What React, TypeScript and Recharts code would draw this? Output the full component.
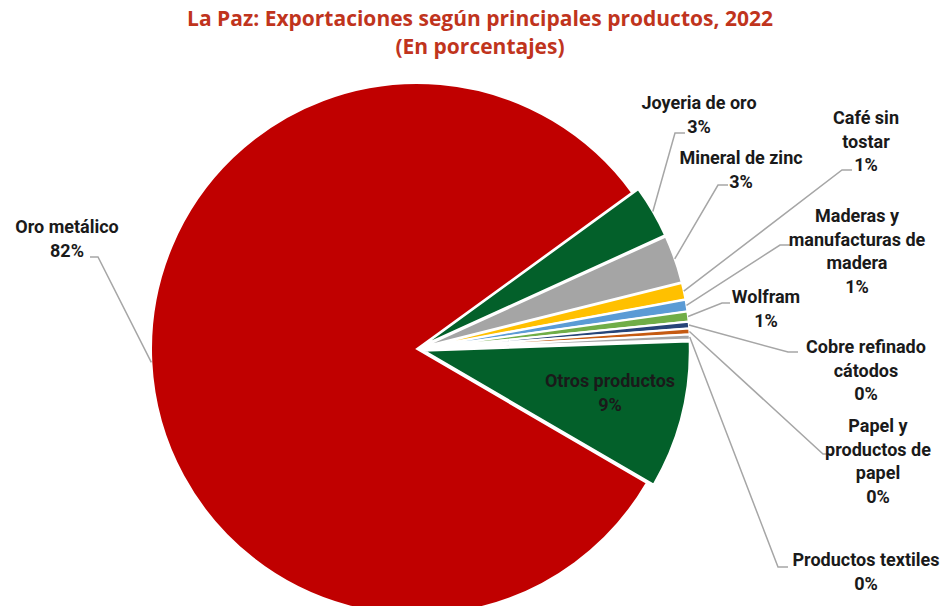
import { PieChart, Pie, Cell, Sector } from "recharts";

const TITLE_LINES = ["La Paz: Exportaciones según principales productos, 2022", "(En porcentajes)"];

const PRODUCTS = [
  "Joyeria de oro",
  "Mineral de zinc",
  "Café sin tostar",
  "Maderas y manufacturas de madera",
  "Wolfram",
  "Cobre refinado cátodos",
  "Papel y productos de papel",
  "Productos textiles",
  "Otros productos",
  "Oro metálico",
];
const SHARES = [3.2, 2.9, 1.0, 0.7, 0.6, 0.4, 0.35, 0.3, 8.95, 81.6];
const LABEL_LINES = [
  ["Joyeria de oro"],
  ["Mineral de zinc"],
  ["Café sin", "tostar"],
  ["Maderas y", "manufacturas de", "madera"],
  ["Wolfram"],
  ["Cobre refinado", "cátodos"],
  ["Papel y", "productos de", "papel"],
  ["Productos textiles"],
  ["Otros productos"],
  ["Oro metálico"],
];

const COLORS = ["#03602A", "#A5A5A5", "#FFC000", "#5B9BD5", "#70AD47", "#264478", "#C55A11", "#A5A5A5", "#03602A", "#C00000"];

// label placement (text centre, first baseline, leader elbow, leader end)
const LABEL_POS: { x: number; y: number; elbow?: [number, number]; end?: [number, number] }[] = [
  { x: 699, y: 109, elbow: [675, 133], end: [685, 133] },
  { x: 741, y: 164, elbow: [718, 185], end: [728, 185] },
  { x: 866, y: 124, elbow: [842, 170], end: [852, 170] },
  { x: 857, y: 222, elbow: [780, 245], end: [790, 245] },
  { x: 766, y: 303, elbow: [722, 303], end: [730, 303] },
  { x: 866, y: 353, elbow: [788, 352], end: [798, 352] },
  { x: 878, y: 432, elbow: [823, 454], end: [833, 454] },
  { x: 866, y: 566, elbow: [778, 567], end: [788, 567] },
  { x: 610, y: 387 },
  { x: 67, y: 233, elbow: [98, 257], end: [90, 257] },
];

const EXPLODE = 7;
const RAD = Math.PI / 180;

const data = PRODUCTS.map((name, i) => ({ name, value: SHARES[i] }));

const explodeFor = (name: string) => (name === "Oro metálico" ? 0 : EXPLODE);

const renderShape = (props: any) => {
  const off = explodeFor(props.name ?? props.payload?.name);
  const dx = Math.cos(-props.midAngle * RAD) * off;
  const dy = Math.sin(-props.midAngle * RAD) * off;
  return <Sector {...props} cx={props.cx + dx} cy={props.cy + dy} />;
};

const renderLabel = (props: any) => {
  const { cx, cy, midAngle, outerRadius, index, percent } = props;
  const pos = LABEL_POS[index];
  const lines = [...LABEL_LINES[index], `${Math.round(percent * 100)}%`];
  const r = outerRadius + explodeFor(PRODUCTS[index]);
  const sx = cx + Math.cos(-midAngle * RAD) * r;
  const sy = cy + Math.sin(-midAngle * RAD) * r;
  return (
    <g key={`lbl-${index}`}>
      {pos.elbow && pos.end && (
        <polyline
          points={`${sx},${sy} ${pos.elbow[0]},${pos.elbow[1]} ${pos.end[0]},${pos.end[1]}`}
          fill="none"
          stroke="#A6A6A6"
          strokeWidth={1.5}
        />
      )}
      <text
        x={pos.x}
        y={pos.y}
        textAnchor="middle"
        fontFamily="Roboto, sans-serif"
        fontWeight="bold"
        fontSize={18}
        fill="#1a1a1a"
      >
        {lines.map((l, k) => (
          <tspan key={k} x={pos.x} dy={k === 0 ? 0 : 23.5}>
            {l}
          </tspan>
        ))}
      </text>
    </g>
  );
};

const titleStyle = {
  position: "absolute" as const,
  left: 0,
  width: 960,
  height: 21,
  textAlign: "center" as const,
  fontFamily: "'Open Sans', sans-serif",
  fontWeight: "bold",
  fontSize: 21,
  lineHeight: "21px",
  color: "#C0341D",
  whiteSpace: "nowrap" as const,
};

export default function App() {
  return (
    <div style={{ position: "absolute", left: 0, top: 0, width: 941, height: 606, overflow: "hidden", background: "#fff" }}>
      <div style={{ ...titleStyle, top: 8 }}>{TITLE_LINES[0]}</div>
      <div style={{ ...titleStyle, top: 36 }}>{TITLE_LINES[1]}</div>
      <PieChart
        width={941}
        height={606}
        margin={{ top: 0, right: 0, bottom: 0, left: 0 }}
        style={{ position: "absolute", left: 0, top: 0 }}
      >
        <Pie
          data={data}
          dataKey="value"
          nameKey="name"
          cx={417}
          cy={349}
          outerRadius={266}
          startAngle={36}
          endAngle={-324}
          stroke="#fff"
          strokeWidth={2}
          shape={renderShape}
          label={renderLabel}
          labelLine={false}
          isAnimationActive={false}
        >
          {data.map((d, i) => (
            <Cell key={d.name} fill={COLORS[i]} />
          ))}
        </Pie>
      </PieChart>
    </div>
  );
}
